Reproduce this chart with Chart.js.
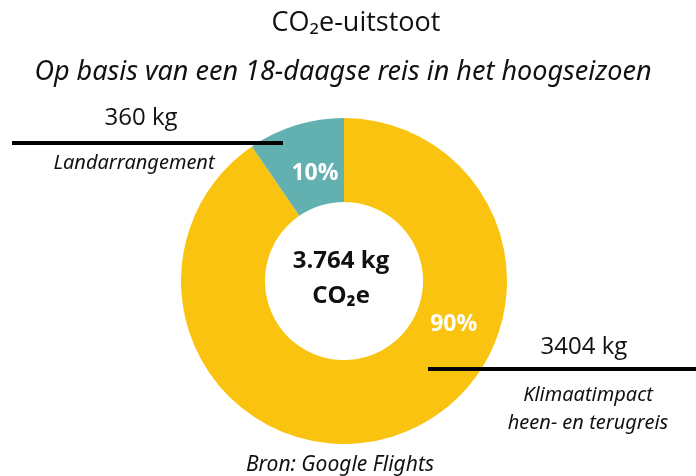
<!DOCTYPE html>
<html>
<head>
<meta charset="utf-8">
<script src="https://cdn.jsdelivr.net/npm/chart.js@4"></script>
<style>
  html, body { margin: 0; padding: 0; background: #fff; }
  #wrap { width: 696px; height: 476px; }
</style>
</head>
<body>
<div id="wrap"><canvas id="co2"></canvas></div>
<script>
    "use strict";

    // Data
    var categories = ["Klimaatimpact heen- en terugreis", "Landarrangement"];
    var emissions = [3404, 360];
    var percentLabels = ["90%", "10%"];
    var colors = ["#f9c30f", "#63b0b1"];

    var font = "'Open Sans', 'Noto Sans', sans-serif";
    var italicFont = "'Noto Sans', 'Open Sans', sans-serif";

    // Titles, labels and leader lines drawn on top of the doughnut
    var annotations = {
        id: "annotations",
        afterDatasetsDraw: function (chart) {
            var ctx = chart.ctx;
            var arcs = chart.getDatasetMeta(0).data;
            var cx = arcs[0].x, cy = arcs[0].y;

            ctx.save();
            ctx.textAlign = "center";
            ctx.textBaseline = "middle";

            // titles
            ctx.fillStyle = "#111";
            ctx.font = "27px " + font;
            ctx.fillText("CO\u2082e-uitstoot", 356, 23);
            ctx.font = "italic 27px " + italicFont;
            ctx.fillText("Op basis van een 18-daagse reis in het hoogseizoen", 343, 72);

            // percentages inside the ring
            var fractions = [0.343, 0.56];
            var offsets = [-3, -10];
            arcs.forEach(function (arc, i) {
                var mid = arc.startAngle + (arc.endAngle - arc.startAngle) * fractions[i];
                var r = (arc.innerRadius + arc.outerRadius) / 2 + offsets[i];
                ctx.fillStyle = "#ffffff";
                ctx.font = "bold 23px " + font;
                ctx.fillText(percentLabels[i], cx + Math.cos(mid) * r, cy + Math.sin(mid) * r);
            });

            // total in the middle
            var total = emissions.reduce(function (a, b) { return a + b; }, 0);
            ctx.fillStyle = "#111";
            ctx.font = "bold 24px " + font;
            ctx.fillText(total.toLocaleString("nl-NL") + " kg", cx - 3, cy - 20);
            ctx.fillText("CO\u2082e", cx - 3, cy + 15);

            // leader lines
            ctx.strokeStyle = "#000";
            ctx.lineWidth = 4;
            ctx.beginPath();
            ctx.moveTo(12, 143); ctx.lineTo(283, 143);
            ctx.moveTo(428, 369); ctx.lineTo(696, 369);
            ctx.stroke();

            ctx.fillStyle = "#111";
            ctx.font = "24px " + font;
            ctx.fillText(emissions[1] + " kg", 141, 118);
            ctx.fillText(emissions[0] + " kg", 584, 347);

            ctx.font = "italic 20px " + italicFont;
            ctx.fillText("Landarrangement", 134, 163);
            ctx.fillText("Klimaatimpact", 588, 395);
            ctx.fillText("heen- en terugreis", 588, 423);
            ctx.font = "italic 21px " + italicFont;
            ctx.fillText("Bron: Google Flights", 340, 465);
            ctx.restore();
        }
    };

    var myChart = new Chart(document.getElementById("co2").getContext("2d"), {
        type: "doughnut",
        data: {
            labels: categories,
            datasets: [{
                data: emissions,
                backgroundColor: colors,
                borderWidth: 0
            }]
        },
        options: {
            responsive: true,
            maintainAspectRatio: false,
            animation: false,
            cutout: "48.5%",
            layout: { padding: { left: 181, right: 189, top: 118, bottom: 32 } },
            plugins: {
                legend: { display: false },
                tooltip: { enabled: false },
                title: { display: false }
            }
        },
        plugins: [annotations]
    });
</script>
</body>
</html>
